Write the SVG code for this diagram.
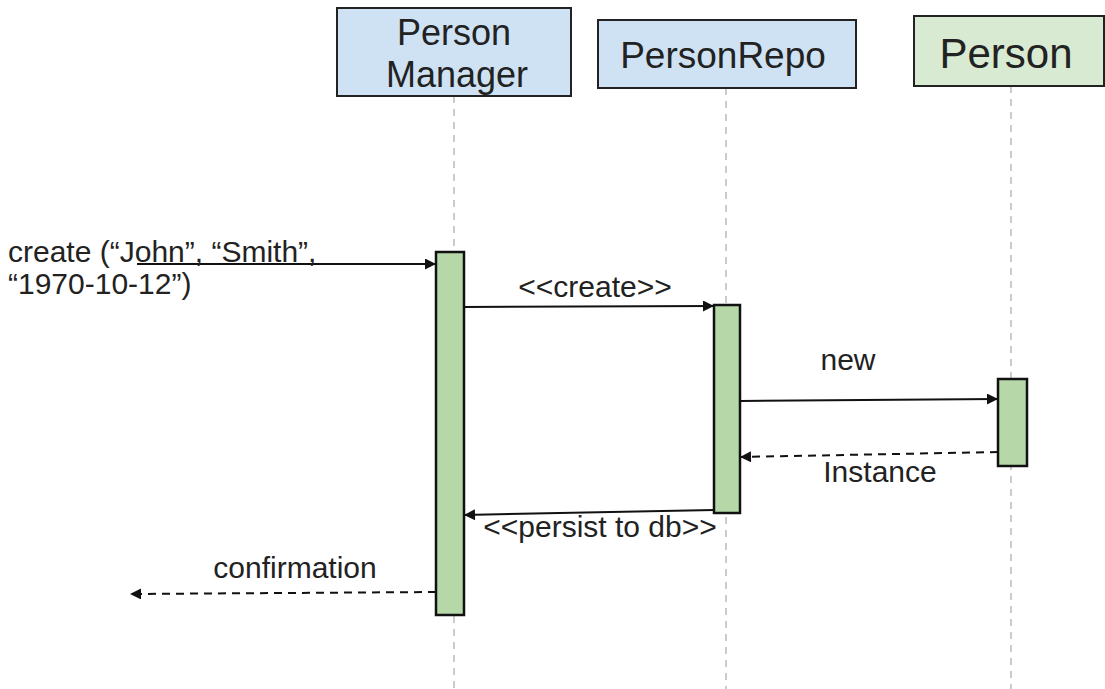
<svg xmlns="http://www.w3.org/2000/svg" width="1105" height="689" viewBox="0 0 1105 689">
<style>
text{font-family:"Liberation Sans",Arial,sans-serif;fill:#222}
.hdr{stroke:#222;stroke-width:2}
.blue{fill:#cfe2f3}
.green{fill:#d9ead3}
.life{stroke:#bbb;stroke-width:1.5;stroke-dasharray:7 6;fill:none}
.act{fill:#b6d7a8;stroke:#111;stroke-width:2.5}
.msg{stroke:#111;stroke-width:2;fill:none}
.ret{stroke:#111;stroke-width:2;fill:none;stroke-dasharray:8 6}
.lbl{font-size:30px;text-anchor:middle}
</style>
<defs>
<marker id="ah" viewBox="0 0 10 10" refX="10" refY="5" markerWidth="12" markerHeight="11" markerUnits="userSpaceOnUse" orient="auto"><path d="M0,0 L10,5 L0,10 z" fill="#111"/></marker>
</defs>
<rect width="1105" height="689" fill="#fff"/>
<g id="lifelines">
<line class="life" x1="454" y1="96" x2="454" y2="689"/>
<line class="life" x1="726" y1="88" x2="726" y2="689"/>
<line class="life" x1="1011" y1="86" x2="1011" y2="689"/>
</g>
<g id="node-personmanager">
<rect class="hdr blue" x="337" y="8" width="234" height="88"/>
<text x="454" y="45" font-size="36" text-anchor="middle">Person</text>
<text x="457" y="87" font-size="36" text-anchor="middle">Manager</text>
</g>
<g id="node-personrepo">
<rect class="hdr blue" x="598" y="20" width="258" height="68"/>
<text x="723" y="68" font-size="37" text-anchor="middle">PersonRepo</text>
</g>
<g id="node-person">
<rect class="hdr green" x="914" y="16" width="190" height="70"/>
<text x="1006" y="68" font-size="42" text-anchor="middle">Person</text>
</g>
<g id="activations">
<rect class="act" x="436" y="252" width="28" height="363"/>
<rect class="act" x="714" y="305" width="26" height="208"/>
<rect class="act" x="998" y="379" width="29" height="87"/>
</g>
<g id="connectors">
<line class="msg" x1="137" y1="264" x2="436" y2="264" marker-end="url(#ah)"/>
<line class="msg" x1="464" y1="307" x2="714" y2="306" marker-end="url(#ah)"/>
<line class="msg" x1="740" y1="401" x2="998" y2="399" marker-end="url(#ah)"/>
<line class="ret" x1="998" y1="452" x2="740" y2="457" marker-end="url(#ah)"/>
<line class="msg" x1="714" y1="510" x2="464" y2="515" marker-end="url(#ah)"/>
<line class="ret" x1="436" y1="592" x2="130" y2="594" marker-end="url(#ah)"/>
</g>
<g id="labels">
<text x="8" y="262" font-size="30">create (“John”, “Smith”,</text>
<text x="8" y="294" font-size="30">“1970-10-12”)</text>
<text class="lbl" x="595" y="297">&lt;&lt;create&gt;&gt;</text>
<text class="lbl" x="848" y="370">new</text>
<text class="lbl" x="880" y="482">Instance</text>
<text class="lbl" x="600" y="537">&lt;&lt;persist to db&gt;&gt;</text>
<text class="lbl" x="295" y="578">confirmation</text>
</g>
</svg>
